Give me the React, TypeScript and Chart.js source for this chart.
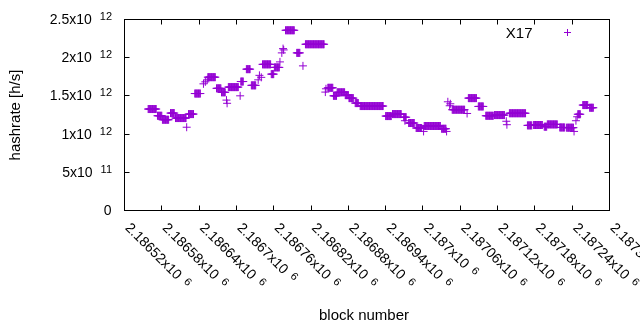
import React, { useEffect, useRef } from "react";
import { Chart, registerables } from "chart.js";

Chart.register(...registerables);

// Runs of consecutive blocks sharing the same hashrate value
const runStart = [
  2186558, 2186573, 2186581, 2186594, 2186602, 2186620, 2186623, 2186633, 2186647, 2186650,
  2186653, 2186654, 2186668, 2186676, 2186684, 2186685, 2186687, 2186706, 2186707, 2186716,
  2186724, 2186735, 2186737, 2186740, 2186742, 2186756, 2186761, 2186770, 2186773, 2186775,
  2186776, 2186779, 2186797, 2186807, 2186811, 2186843, 2186844, 2186847, 2186856, 2186862,
  2186875, 2186881, 2186891, 2186899, 2186940, 2186951, 2186969, 2186971, 2186977, 2186989,
  2187001, 2187002, 2187030, 2187038, 2187040, 2187043, 2187044, 2187047, 2187071, 2187073,
  2187089, 2187101, 2187115, 2187134, 2187135, 2187139, 2187168, 2187178, 2187195, 2187200,
  2187220, 2187231, 2187243, 2187246, 2187248, 2187249, 2187257, 2187268,
];
const runEnd = [
  2186571, 2186580, 2186591, 2186600, 2186619, 2186620, 2186631, 2186642, 2186647, 2186650,
  2186653, 2186666, 2186675, 2186682, 2186684, 2186685, 2186703, 2186706, 2186711, 2186722,
  2186731, 2186735, 2186737, 2186740, 2186755, 2186760, 2186769, 2186770, 2186773, 2186775,
  2186776, 2186793, 2186802, 2186807, 2186841, 2186843, 2186844, 2186855, 2186861, 2186874,
  2186880, 2186888, 2186896, 2186936, 2186949, 2186965, 2186973, 2186971, 2186986, 2186998,
  2187001, 2187028, 2187037, 2187038, 2187040, 2187043, 2187044, 2187067, 2187071, 2187086,
  2187097, 2187113, 2187131, 2187134, 2187135, 2187165, 2187175, 2187192, 2187199, 2187216,
  2187228, 2187242, 2187243, 2187246, 2187248, 2187253, 2187265, 2187274,
];
const runHashrate = [
  1.328e12, 1.24e12, 1.188e12, 1.275e12, 1.21e12, 1.09e12, 1.262e12, 1.531e12, 1.658e12, 1.684e12,
  1.71e12, 1.745e12, 1.599e12, 1.547e12, 1.445e12, 1.403e12, 1.615e12, 1.501e12, 1.688e12, 1.85e12,
  1.638e12, 1.71e12, 1.769e12, 1.743e12, 1.913e12, 1.785e12, 1.873e12, 1.945e12, 2.063e12, 2.119e12,
  2.102e12, 2.359e12, 2.063e12, 1.893e12, 2.176e12, 1.55e12, 1.593e12, 1.606e12, 1.501e12, 1.547e12,
  1.51e12, 1.471e12, 1.406e12, 1.367e12, 1.236e12, 1.262e12, 1.221e12, 1.175e12, 1.145e12, 1.08e12,
  1.035e12, 1.106e12, 1.07e12, 1.035e12, 1.423e12, 1.371e12, 1.397e12, 1.319e12, 1.27e12, 1.471e12,
  1.362e12, 1.24e12, 1.249e12, 1.168e12, 1.123e12, 1.273e12, 1.114e12, 1.119e12, 1.097e12, 1.127e12,
  1.087e12, 1.084e12, 1.035e12, 1.175e12, 1.227e12, 1.26e12, 1.38e12, 1.345e12,
];

const xMin = 2186520;
const xMax = 2187300;
const xTickValues = [
  2186520, 2186580, 2186640, 2186700, 2186760, 2186820, 2186880, 2186940, 2187000, 2187060,
  2187120, 2187180, 2187240, 2187300,
];
const xTickMain = [
  "2.18652x10", "2.18658x10", "2.18664x10", "2.1867x10", "2.18676x10", "2.18682x10", "2.18688x10",
  "2.18694x10", "2.187x10", "2.18706x10", "2.18712x10", "2.18718x10", "2.18724x10", "2.1873x10",
];
const xTickExp = ["6", "6", "6", "6", "6", "6", "6", "6", "6", "6", "6", "6", "6", "6"];

const yMin = 0;
const yMax = 2.5e12;
const yTickValues = [0, 5e11, 1e12, 1.5e12, 2e12, 2.5e12];
const yTickMain = ["0", "5x10", "1x10", "1.5x10", "2x10", "2.5x10"];
const yTickExp = ["", "11", "12", "12", "12", "12"];

const seriesLabel = "X17";
const xTitle = "block number";
const yTitle = "hashrate [h/s]";
const seriesColor = "#9400d3";

const FONT = '"Liberation Sans", Arial, sans-serif';

const axesPlugin = {
  id: "gnuplotAxes",
  afterDraw(chart: any) {
    const ctx = chart.ctx as CanvasRenderingContext2D;
    const { left, right, top, bottom } = chart.chartArea;
    const xs = chart.scales.x;
    const ys = chart.scales.y;
    ctx.save();
    ctx.strokeStyle = "#000";
    ctx.fillStyle = "#000";
    ctx.lineWidth = 1;
    // border
    ctx.strokeRect(left, top, right - left, bottom - top);
    const tl = 5;
    ctx.beginPath();
    xTickValues.forEach((v) => {
      const px = Math.round(xs.getPixelForValue(v) - 0.5) + 0.5;
      ctx.moveTo(px, bottom);
      ctx.lineTo(px, bottom - tl);
      ctx.moveTo(px, top);
      ctx.lineTo(px, top + tl);
    });
    yTickValues.forEach((v) => {
      const py = Math.round(ys.getPixelForValue(v) - 0.5) + 0.5;
      ctx.moveTo(left, py);
      ctx.lineTo(left + tl, py);
      ctx.moveTo(right, py);
      ctx.lineTo(right - tl, py);
    });
    ctx.stroke();

    // y tick labels
    yTickValues.forEach((v, i) => {
      const py = ys.getPixelForValue(v);
      ctx.textBaseline = "alphabetic";
      ctx.textAlign = "right";
      let rightX = 111.5;
      if (yTickExp[i]) {
        ctx.font = `11px ${FONT}`;
        const w = ctx.measureText(yTickExp[i]).width;
        ctx.fillText(yTickExp[i], 112, py + 0.5);
        rightX = 112 - w - 8;
      }
      ctx.font = `14px ${FONT}`;
      ctx.fillText(yTickMain[i], rightX, py + 4.5);
    });

    // x tick labels, rotated downwards to the right
    xTickValues.forEach((v, i) => {
      const px = xs.getPixelForValue(v);
      ctx.save();
      ctx.translate(px, 228.5);
      ctx.rotate(Math.PI / 4);
      ctx.textAlign = "left";
      ctx.textBaseline = "alphabetic";
      ctx.font = `14px ${FONT}`;
      const w = ctx.measureText(xTickMain[i]).width;
      ctx.fillText(xTickMain[i], 0, 0);
      ctx.font = `11px ${FONT}`;
      ctx.fillText(xTickExp[i], w + 6.5, -3.5);
      ctx.restore();
    });

    // axis titles
    ctx.font = `15px ${FONT}`;
    ctx.textAlign = "center";
    ctx.textBaseline = "alphabetic";
    ctx.fillText(xTitle, 364, 320);
    ctx.save();
    ctx.translate(16, (top + bottom) / 2);
    ctx.rotate(-Math.PI / 2);
    ctx.textBaseline = "middle";
    ctx.fillText(yTitle, 0, 0);
    ctx.restore();

    // legend
    ctx.textAlign = "right";
    ctx.textBaseline = "alphabetic";
    ctx.font = `15px ${FONT}`;
    ctx.fillText(seriesLabel, 532.5, 37.5);
    ctx.strokeStyle = seriesColor;
    ctx.beginPath();
    ctx.moveTo(564, 32.5);
    ctx.lineTo(571, 32.5);
    ctx.moveTo(567.5, 29);
    ctx.lineTo(567.5, 36);
    ctx.stroke();
    ctx.restore();
  },
};

export default function App() {
  const ref = useRef<HTMLCanvasElement | null>(null);
  useEffect(() => {
    document.body.style.margin = "0";
    const points: { x: number; y: number }[] = [];
    for (let i = 0; i < runStart.length; i++) {
      for (let b = runStart[i]; b <= runEnd[i]; b++) points.push({ x: b, y: runHashrate[i] });
    }
    const chart = new Chart(ref.current as HTMLCanvasElement, {
      type: "scatter",
      data: {
        datasets: [
          {
            label: seriesLabel,
            data: points,
            pointStyle: "cross",
            pointRadius: 4,
            pointHoverRadius: 4,
            borderColor: seriesColor,
            backgroundColor: seriesColor,
            borderWidth: 1,
            showLine: false,
          },
        ],
      },
      options: {
        responsive: false,
        animation: false,
        devicePixelRatio: 1,
        events: [],
        layout: { padding: { left: 124.5, right: 30.5, top: 19.5, bottom: 119.5 } },
        scales: {
          x: { type: "linear", min: xMin, max: xMax, display: false },
          y: { type: "linear", min: yMin, max: yMax, display: false },
        },
        plugins: { legend: { display: false }, tooltip: { enabled: false } },
      },
      plugins: [axesPlugin],
    } as any);
    return () => chart.destroy();
  }, []);
  return (
    <div style={{ width: 640, height: 330, background: "#fff" }}>
      <canvas ref={ref} width={640} height={330} style={{ display: "block" }} />
    </div>
  );
}
